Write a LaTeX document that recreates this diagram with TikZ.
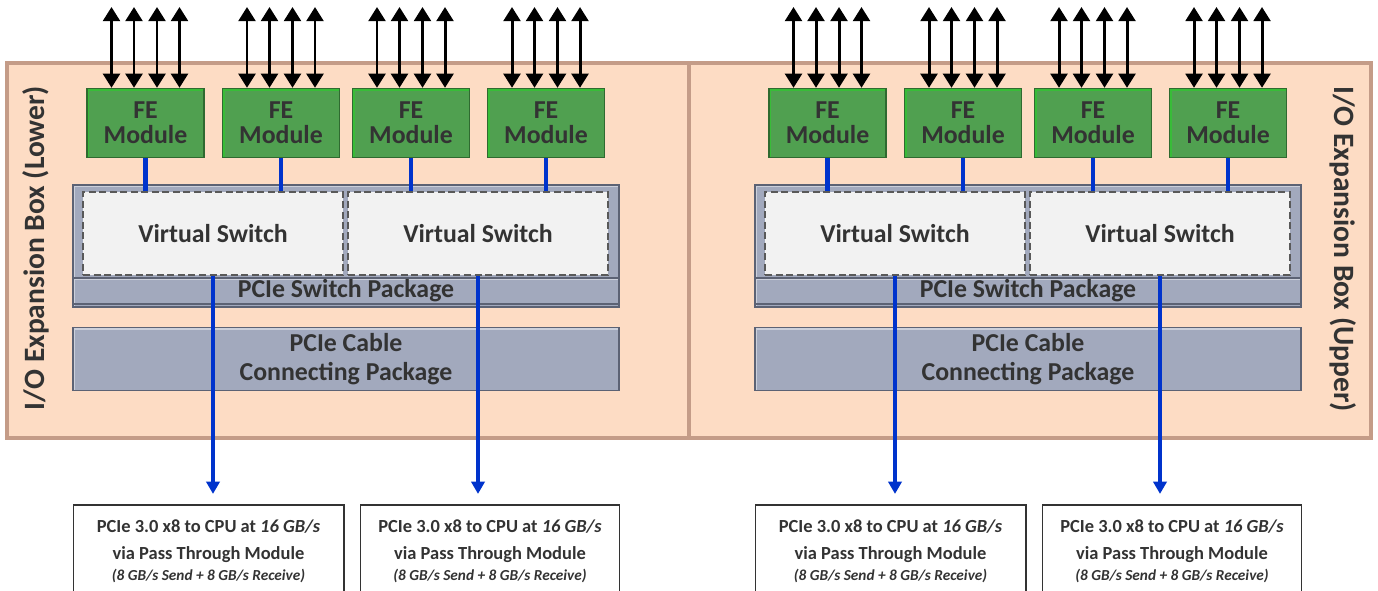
\documentclass[tikz,border=0pt]{standalone}
\usepackage{fontspec}
\setmainfont{Carlito}
\usepackage{tikz}
\usetikzlibrary{arrows.meta,calc}
\definecolor{peach}{HTML}{FDDCC4}
\definecolor{peachedge}{HTML}{C49C88}
\definecolor{fegreen}{HTML}{50A050}
\definecolor{fedark}{HTML}{2F6A30}
\definecolor{pkggray}{HTML}{A2A9BD}
\definecolor{pkgdark}{HTML}{5C6274}
\definecolor{vsfill}{HTML}{F2F2F2}
\definecolor{txtgray}{HTML}{333333}
\definecolor{linkblue}{HTML}{0033CC}
\tikzset{
  bevel/.style={path picture={\draw[#1, line width=2.5pt]
      (path picture bounding box.south west) -- (path picture bounding box.north west)
      -- (path picture bounding box.north east);}},
  iobox/.style={draw=peachedge, fill=peach, line width=2.5pt, bevel=white!60!peach,
      minimum width=13.64cm, minimum height=7.5cm},
  femod/.style={draw=fedark, fill=fegreen, line width=0.8pt, bevel=green!30!fegreen,
      minimum width=2.34cm, minimum height=1.38cm, align=center, text=txtgray,
      font=\bfseries\fontsize{14.7}{14}\selectfont},
  pkg/.style={draw=pkgdark, fill=pkggray, line width=0.8pt, bevel=white!45!pkggray,
      minimum width=10.92cm, align=center, text=txtgray,
      font=\bfseries\fontsize{14.7}{16.5}\selectfont},
  vswitch/.style={draw=black!65, fill=vsfill, line width=1.4pt, dash pattern=on 4pt off 2pt,
      minimum width=5.2cm, minimum height=1.66cm, text=txtgray,
      font=\bfseries\fontsize{14.7}{16}\selectfont},
  cpubox/.style={draw=black!80, fill=white, line width=0.6pt, minimum height=1.86cm,
      align=center, text=txtgray, font=\bfseries\fontsize{10.5}{15.3}\selectfont},
  sidelabel/.style={text=txtgray, font=\bfseries\fontsize{16.8}{18}\selectfont},
  io/.style={{Triangle[width=9.5pt,length=8pt]}-{Triangle[width=9.5pt,length=8pt]},
      line width=1.7pt, black},
  link/.style={linkblue, line width=2.4pt},
  uplink/.style={link, -{Triangle[width=7.5pt,length=7pt]}, shorten >=6pt},
}
\newcommand{\cputext}{PCIe 3.0 x8 to CPU at \textit{16 GB/s}\\via Pass Through Module\\[-3pt]
  {\fontsize{8.7}{10}\selectfont\itshape (8 GB/s Send + 8 GB/s Receive)}}

\begin{document}
\begin{tikzpicture}[x=0.02cm, y=-0.02cm]
	\useasboundingbox (0,0) rectangle (1378,591);

	\foreach \s/\o in {L/0, U/682} {
		\node[iobox] (box\s) at (348+\o, 250.5) {};

		% switch package with its two virtual switches
		\node[pkg, minimum height=2.44cm] (sw\s) at (346+\o, 246) {};
		\node[pkg, anchor=south, inner sep=1pt] (swtxt\s) at ($(sw\s.south)+(0,-3)$) {PCIe Switch Package};
		\node[vswitch] (vs\s1) at (213+\o, 233.5) {Virtual Switch};
		\node[vswitch] (vs\s2) at (478+\o, 233.5) {Virtual Switch};

		\node[pkg, minimum height=1.24cm] (cab\s) at (346+\o, 359) {PCIe Cable\\Connecting Package};

		% destinations below the box
		\node[cpubox, minimum width=5.42cm] (cpu\s1) at (208.5+\o, 551.5) {\cputext};
		\node[cpubox, minimum width=5.17cm] (cpu\s2) at (490+\o, 551.5) {\cputext};

		% front end modules
		\foreach \i/\x/\v in {1/145.5/1, 2/281/1, 3/411/2, 4/546/2} {
			\node[femod] (fe\s\i) at (\x+\o, 123) {FE\\Module};
			\draw[link] (fe\s\i.south) -- (fe\s\i.south |- vs\s\v.north);
			\foreach \j/\d in {a/-34, b/-11.5, c/11.5, d/34} {
				\coordinate (io\s\i\j) at (\x+\o+\d, 7);
				\draw[io] (io\s\i\j) -- (io\s\i\j |- fe\s\i.north);
			}
		}

		\draw[uplink] (vs\s1.south) -- (vs\s1.south |- cpu\s1.north);
		\draw[uplink] (vs\s2.south) -- (vs\s2.south |- cpu\s2.north);
	}

	\node[sidelabel, rotate=90] (lowerlbl) at (36, 248) {I/O Expansion Box (Lower)};
	\node[sidelabel, rotate=-90] (upperlbl) at (1343, 249) {I/O Expansion Box (Upper)};
\end{tikzpicture}
\end{document}
